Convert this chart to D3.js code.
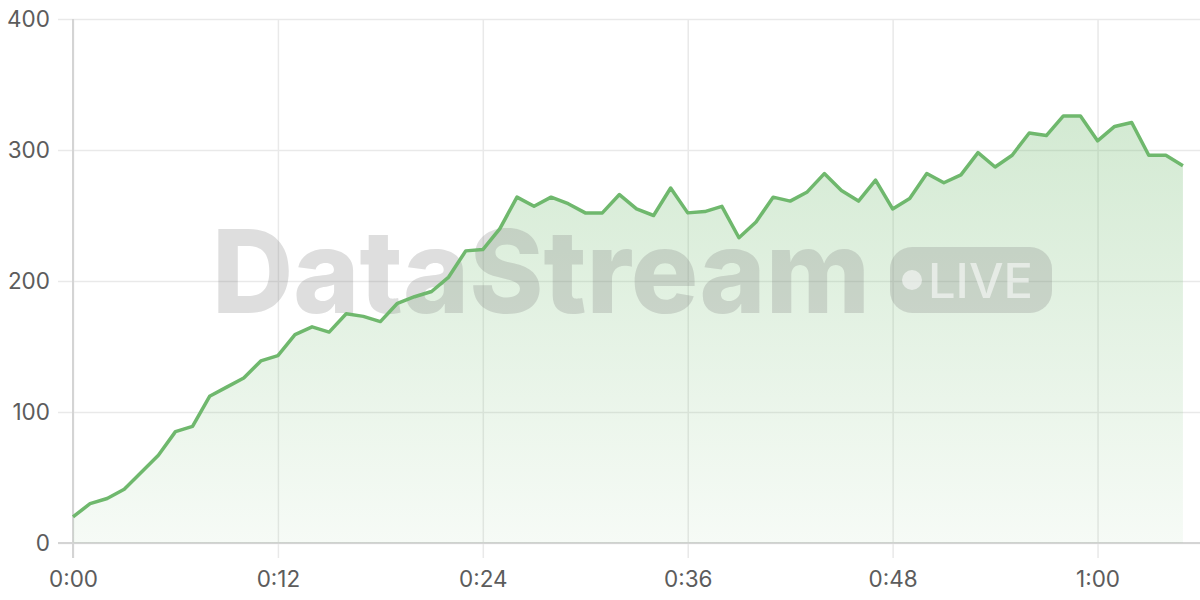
<!DOCTYPE html>
<html>
<head>
<meta charset="utf-8">
<script src="https://cdn.jsdelivr.net/npm/d3@7"></script>
<style>
    body { margin: 0; background: #fff; }
    #chart-area { width: 1200px; height: 600px; }
    .axis text { font-family: "Inter", "Noto Sans", sans-serif; font-size: 22.5px; fill: #5c5c5c; }
    .axis .domain { display: none; }
    .grid-line { stroke: #e9e9e9; stroke-width: 1.5; }
</style>
</head>
<body>
<div id="chart-area"></div>
<script>

// seconds since start
const seconds = [
    0, 1, 2, 3, 4, 5, 6, 7, 8, 9,
    10, 11, 12, 13, 14, 15, 16, 17, 18, 19,
    20, 21, 22, 23, 24, 25, 26, 27, 28, 29,
    30, 31, 32, 33, 34, 35, 36, 37, 38, 39,
    40, 41, 42, 43, 44, 45, 46, 47, 48, 49,
    50, 51, 52, 53, 54, 55, 56, 57, 58, 59,
    60, 61, 62, 63, 64, 65
];

const values = [
    20, 30, 34, 41, 54, 67, 85, 89, 112, 119,
    126, 139, 143, 159, 165, 161, 175, 173, 169, 183,
    188, 192, 203, 223, 224, 240, 264, 257, 264, 259,
    252, 252, 266, 255, 250, 271, 252, 253, 257, 233,
    245, 264, 261, 268, 282, 269, 261, 277, 255, 263,
    282, 275, 281, 298, 287, 296, 313, 311, 326, 326,
    307, 318, 321, 296, 296, 288
];

const xTicks = [0, 12, 24, 36, 48, 60];
const yTicks = [0, 100, 200, 300, 400];
const xMax = 66;
const yMax = 400;

const brandText = "DataStream";
const badgeText = "LIVE";


class LiveChart {

    constructor(_parentElement, _seconds, _values) {
        this.parentElement = _parentElement;
        this.data = _seconds.map((s, i) => ({ t: s, v: _values[i] }));

        this.initVis();
    }

    initVis() {
        let vis = this;

        vis.margin = { top: 19, right: 0, bottom: 57, left: 73 };

        vis.width = 1200 - vis.margin.left - vis.margin.right;
        vis.height = 600 - vis.margin.top - vis.margin.bottom;

        vis.svg = d3.select("#" + vis.parentElement).append("svg")
            .attr("width", vis.width + vis.margin.left + vis.margin.right)
            .attr("height", vis.height + vis.margin.top + vis.margin.bottom)
            .append("g")
            .attr("transform", "translate(" + vis.margin.left + "," + vis.margin.top + ")");

        vis.x = d3.scaleLinear()
            .domain([0, xMax])
            .range([0, vis.width]);

        vis.y = d3.scaleLinear()
            .domain([0, yMax])
            .range([vis.height, 0]);

        let fmtTime = s => Math.floor(s / 60) + ":" + d3.format("02d")(s % 60);

        // gradient under the line
        let defs = vis.svg.append("defs");
        let grad = defs.append("linearGradient")
            .attr("id", "area-fill")
            .attr("x1", 0).attr("y1", 0)
            .attr("x2", 0).attr("y2", 1);
        grad.append("stop").attr("offset", "0%").attr("stop-color", "#6cb86a").attr("stop-opacity", 0.3);
        grad.append("stop").attr("offset", "100%").attr("stop-color", "#6cb86a").attr("stop-opacity", 0.06);

        // axes with grid lines built into the ticks
        vis.xAxis = d3.axisBottom(vis.x)
            .tickValues(xTicks)
            .tickFormat(fmtTime)
            .tickSize(-(vis.height + 15))
            .tickPadding(13);

        vis.yAxis = d3.axisLeft(vis.y)
            .tickValues(yTicks)
            .tickSize(-(vis.width + 15))
            .tickPadding(8);

        vis.svg.append("g")
            .attr("class", "axis x-axis")
            .attr("transform", "translate(0," + (vis.height + 15) + ")")
            .call(vis.xAxis)
            .selectAll(".tick line")
            .attr("class", "grid-line");

        vis.svg.append("g")
            .attr("class", "axis y-axis")
            .attr("transform", "translate(-15,0)")
            .call(vis.yAxis)
            .selectAll(".tick line")
            .attr("class", "grid-line");

        // darker baseline and left axis
        vis.svg.append("line")
            .attr("x1", -15).attr("x2", vis.width)
            .attr("y1", vis.y(0)).attr("y2", vis.y(0))
            .attr("stroke", "#d4d4d4")
            .attr("stroke-width", 2);

        vis.svg.append("line")
            .attr("x1", vis.x(0)).attr("x2", vis.x(0))
            .attr("y1", 0).attr("y2", vis.height + 15)
            .attr("stroke", "#d4d4d4")
            .attr("stroke-width", 2);

        vis.area = d3.area()
            .x(d => vis.x(d.t))
            .y0(vis.y(0))
            .y1(d => vis.y(d.v));

        vis.line = d3.line()
            .x(d => vis.x(d.t))
            .y(d => vis.y(d.v));

        vis.svg.append("path")
            .datum(vis.data)
            .attr("class", "area")
            .attr("d", vis.area)
            .attr("fill", "url(#area-fill)");

        // watermark
        let mark = vis.svg.append("g")
            .attr("class", "watermark")
            .attr("transform", "translate(" + (-vis.margin.left) + "," + (-vis.margin.top) + ")");

        mark.append("text")
            .attr("x", 212)
            .attr("y", 313)
            .attr("textLength", 658)
            .attr("lengthAdjust", "spacingAndGlyphs")
            .style("font-family", "Inter, 'Noto Sans', sans-serif")
            .style("font-weight", 800)
            .style("font-size", "115px")
            .attr("fill", "#808080")
            .attr("fill-opacity", 0.26)
            .text(brandText);

        mark.append("rect")
            .attr("x", 890)
            .attr("y", 247)
            .attr("width", 162)
            .attr("height", 66)
            .attr("rx", 22)
            .attr("fill", "#808080")
            .attr("fill-opacity", 0.26);

        mark.append("circle")
            .attr("cx", 912)
            .attr("cy", 280)
            .attr("r", 10)
            .attr("fill", "#fff")
            .attr("fill-opacity", 0.55);

        mark.append("text")
            .attr("x", 928)
            .attr("y", 298)
            .attr("textLength", 105)
            .attr("lengthAdjust", "spacingAndGlyphs")
            .style("font-family", "Inter, 'Noto Sans', sans-serif")
            .style("font-weight", 500)
            .style("font-size", "48px")
            .attr("fill", "#fff")
            .attr("fill-opacity", 0.55)
            .text(badgeText);

        vis.svg.append("path")
            .datum(vis.data)
            .attr("class", "line")
            .attr("d", vis.line)
            .attr("fill", "none")
            .attr("stroke", "#6fb86d")
            .attr("stroke-width", 3.5)
            .attr("stroke-linejoin", "round");
    }
}

new LiveChart("chart-area", seconds, values);

</script>
</body>
</html>
